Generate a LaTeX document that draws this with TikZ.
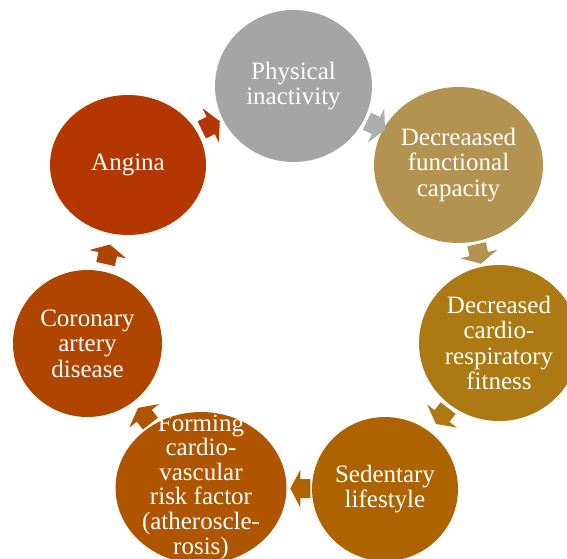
\documentclass[tikz,border=0pt]{standalone}
\usepackage{fontspec}
\setmainfont{Liberation Serif}
\usetikzlibrary{shapes.geometric,calc}

\definecolor{phycol}{HTML}{A5A5A5}
\definecolor{funcol}{HTML}{B29352}
\definecolor{fitcol}{HTML}{AC7912}
\definecolor{sedcol}{HTML}{AD6400}
\definecolor{frmcol}{HTML}{AF5500}
\definecolor{corcol}{HTML}{B04500}
\definecolor{angcol}{HTML}{B43600}

\tikzset{
	bubble/.style={ellipse, inner sep=0pt},
	bubtext/.style={text=white, align=center, font=\fontsize{25}{25.5}\selectfont},
	pics/cycarrow/.style={code={
		\fill[#1] (-10,-9.5) -- (0,-9.5) -- (0,-19) -- (10,0) -- (0,19) -- (0,9.5) -- (-10,9.5) -- cycle;
	}}
}
\newcommand\cycarrow[4][.5]{%
	\path let \p1=($(#3)-(#2)$), \n1={atan2(\y1,\x1)} in ($(#2)!#1!(#3)$) pic[rotate=\n1] {cycarrow=#4};}

\begin{document}
\begin{tikzpicture}[x=1pt,y=-1pt]
		\useasboundingbox (0,0) rectangle (567,558);
		\clip (0,0) rectangle (567,558);

		\node[bubble, fill=phycol, minimum width=157pt, minimum height=152pt] (phy) at (293.5,86) {};
		\node[bubble, fill=funcol, minimum width=169pt, minimum height=156pt] (fun) at (458.5,165) {};
		\node[bubble, fill=fitcol, minimum width=160pt, minimum height=156pt] (fit) at (499,343) {};
		\node[bubble, fill=sedcol, minimum width=146pt, minimum height=144pt] (sed) at (385,489) {};
		\node[bubble, fill=frmcol, minimum width=171pt, minimum height=152pt] (frm) at (201,488) {};
		\node[bubble, fill=corcol, minimum width=149pt, minimum height=147pt] (cor) at (87.5,343.5) {};
		\node[bubble, fill=angcol, minimum width=156pt, minimum height=140pt] (ang) at (128,165) {};

		\node[bubtext] at (phy) {Physical\\inactivity};
		\node[bubtext] at (fun) {Decreaased\\functional\\capacity};
		\node[bubtext] at (fit) {Decreased\\cardio-\\respiratory\\fitness};
		\node[bubtext] at (sed) {Sedentary\\lifestyle};
		\node[bubtext, font=\fontsize{25}{24.6}\selectfont] at ([yshift=1]frm) {Forming\\cardio-\\vascular\\risk factor\\(atheroscle-\\rosis)};
		\node[bubtext] at (cor) {Coronary\\artery\\disease};
		\node[bubtext] at (ang) {Angina};

		\cycarrow{phy}{fun}{phycol!90!white}
		\cycarrow{fun}{fit}{funcol}
		\cycarrow{fit}{sed}{fitcol}
		\cycarrow[.46]{sed}{frm}{sedcol}
		\cycarrow{frm}{cor}{frmcol}
		\cycarrow{cor}{ang}{corcol}
		\cycarrow{ang}{phy}{angcol}
	\end{tikzpicture}
\end{document}
